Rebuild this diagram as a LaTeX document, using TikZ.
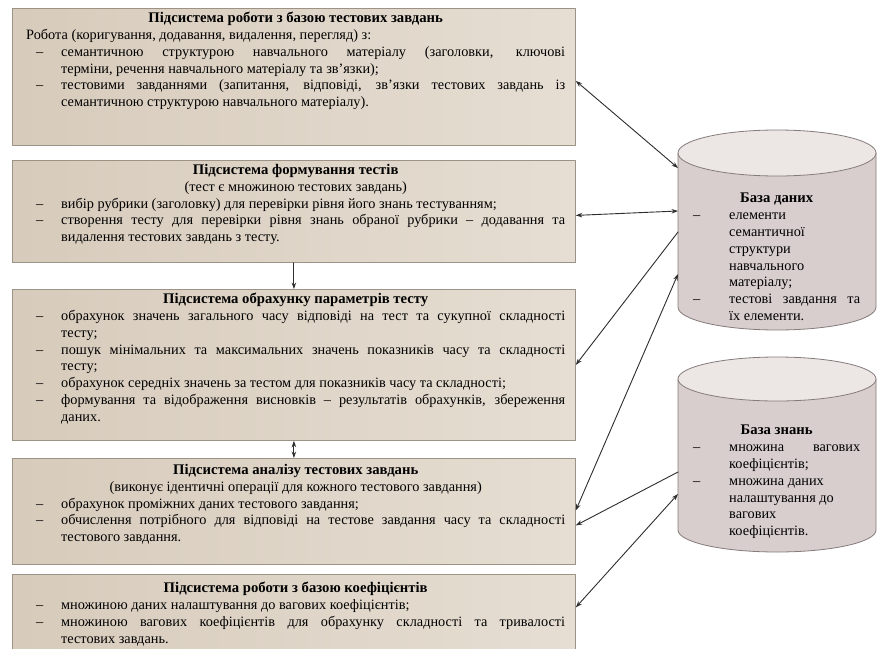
\documentclass[tikz,border=0pt]{standalone}
\usepackage{fontspec}
\setmainfont{Liberation Serif}
\usetikzlibrary{positioning,arrows.meta}
\definecolor{boxleft}{HTML}{D7CBBB}
\definecolor{boxright}{HTML}{E6DED3}
\definecolor{boxline}{HTML}{9C9286}
\definecolor{cylbody}{HTML}{D8CECE}
\definecolor{cyltop}{HTML}{ECE6E5}
\definecolor{cylline}{HTML}{857B7B}
\definecolor{arrowcol}{HTML}{2E2E2E}
\newcommand{\boxfont}{\fontsize{14.3pt}{16.8pt}\selectfont\parindent=0pt\hbadness=10000\relax}
\newcommand{\ttl}[1]{{\centering\fontsize{14.7pt}{16.8pt}\selectfont\bfseries #1\par}}
\newcommand{\itm}{\par\hangindent=35pt\hangafter=1\noindent\hbox to 35pt{\hskip10pt–\hfil}}
\newcommand{\ditm}{\par\hangindent=36pt\hangafter=1\noindent\hbox to 36pt{–\hfil}}
\tikzset{
  subsys/.style={draw=boxline, line width=0.8pt, left color=boxleft, right color=boxright,
    anchor=north west, minimum width=563pt, inner sep=0pt},
  subtxt/.style={anchor=north west, inner sep=0pt, text width=539pt, align=justify, font=\boxfont},
  cyltxt/.style={anchor=north west, inner sep=0pt, text width=167pt, align=justify, font=\boxfont},
  link/.style={arrowcol, line width=0.9pt},
}
\begin{document}
\begin{tikzpicture}[x=1pt, y=-1pt, >={Stealth[length=6.5pt,width=4.5pt]}, line join=round, line cap=round]
	\clip (0,0) rectangle (883,648);
	\fill[white] (0,0) rectangle (883,648);
	% subsystems
	\node[subsys, minimum height=137pt] (b1) at (12,8) {};
	\node[subsys, minimum height=102pt] (b2) at (12,160) {};
	\node[subsys, minimum height=151pt] (b3) at (12,289) {};
	\node[subsys, minimum height=106pt] (b4) at (12,458) {};
	\node[subsys, minimum height=116pt] (b5) at (12,574) {};
	\node[subtxt] (t1) at ([xshift=14pt,yshift=-4pt]b1.north west) {%
		\ttl{Підсистема роботи з базою тестових завдань}
		Робота (коригування, додавання, видалення, перегляд) з:
		\itm семантичною структурою навчального матеріалу (заголовки, ключові\linebreak
		терміни, речення навчального матеріалу та зв’язки);
		\itm тестовими завданнями (запитання, відповіді, зв’язки тестових завдань із\linebreak
		семантичною структурою навчального матеріалу).\par};
	\node[subtxt] (t2) at ([xshift=14pt,yshift=-4pt]b2.north west) {%
		\ttl{Підсистема формування тестів}
		{\centering (тест є множиною тестових завдань)\par}
		\itm вибір рубрики (заголовку) для перевірки рівня його знань тестуванням;
		\itm створення тесту для перевірки рівня знань обраної рубрики – додавання та\linebreak
		видалення тестових завдань з тесту.\par};
	\node[subtxt] (t3) at ([xshift=14pt,yshift=-4pt]b3.north west) {%
		\ttl{Підсистема обрахунку параметрів тесту}
		\itm обрахунок значень загального часу відповіді на тест та сукупної складності\linebreak
		тесту;
		\itm пошук мінімальних та максимальних значень показників часу та складності\linebreak
		тесту;
		\itm обрахунок середніх значень за тестом для показників часу та складності;
		\itm формування та відображення висновків – результатів обрахунків, збереження\linebreak
		даних.\par};
	\node[subtxt] (t4) at ([xshift=14pt,yshift=-6pt]b4.north west) {%
		\ttl{Підсистема аналізу тестових завдань}
		{\centering (виконує ідентичні операції для кожного тестового завдання)\par}
		\itm обрахунок проміжних даних тестового завдання;
		\itm обчислення потрібного для відповіді на тестове завдання часу та складності\linebreak
		тестового завдання.\par};
	\node[subtxt] (t5) at ([xshift=14pt,yshift=-8pt]b5.north west) {%
		\ttl{Підсистема роботи з базою коефіцієнтів}
		\itm множиною даних налаштування до вагових коефіцієнтів;
		\itm множиною вагових коефіцієнтів для обрахунку складності та тривалості\linebreak
		тестових завдань.\par};
	% databases
	\fill[cylbody] (678,153) -- (678,307) arc[start angle=180, end angle=0, x radius=99, y radius=23] -- (876,153) -- cycle;
	\draw[cylline, line width=0.8pt] (678,153) -- (678,307) arc[start angle=180, end angle=0, x radius=99, y radius=23] -- (876,153);
	\filldraw[fill=cyltop, draw=cylline, line width=0.8pt] (777,153) ellipse[x radius=99, y radius=23];
	\fill[cylbody] (678,379) -- (678,530) arc[start angle=180, end angle=0, x radius=99, y radius=22] -- (876,379) -- cycle;
	\draw[cylline, line width=0.8pt] (678,379) -- (678,530) arc[start angle=180, end angle=0, x radius=99, y radius=22] -- (876,379);
	\filldraw[fill=cyltop, draw=cylline, line width=0.8pt] (777,379) ellipse[x radius=99, y radius=22];
	\node[cyltxt] (dbtxt) at (693,193) {%
		\ttl{База даних}
		\ditm елементи\linebreak семантичної\linebreak структури\linebreak навчального\linebreak матеріалу;
		\ditm тестові завдання та\linebreak їх елементи.\par};
	\node[cyltxt] (kbtxt) at (693,425) {%
		\ttl{База знань}
		\ditm множина вагових\linebreak коефіцієнтів;
		\ditm множина даних\newline налаштування до\newline вагових\newline коефіцієнтів.\par};
	\coordinate (dbA) at (678,168);
	\coordinate (dbB) at (678,211);
	\coordinate (dbC) at (678,232);
	\coordinate (dbD) at (678,274);
	\coordinate (kbA) at (678,472);
	\coordinate (kbB) at (678,494);
	% links
	\draw[link,->] (b2.south) -- (b3.north);
	\draw[link,<->] (b3.south) -- (b4.north);
	\draw[link,<->] ([yshift=-4pt]b1.east) -- (dbA);
	\draw[link,<->] ([yshift=-4pt]b2.east) -- (dbB);
	\draw[link,->] (dbC) -- (b3.east);
	\draw[link,<->] ([yshift=1pt]b4.east) -- (dbD);
	\draw[link,->] (kbA) -- ([yshift=-14pt]b4.east);
	\draw[link,<->] ([yshift=25pt]b5.east) -- (kbB);
\end{tikzpicture}
\end{document}
